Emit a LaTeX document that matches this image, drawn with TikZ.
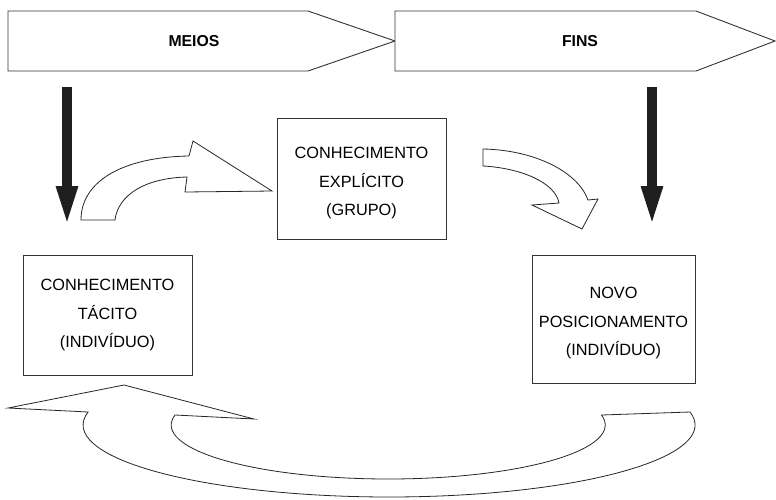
\documentclass[tikz,border=0pt]{standalone}
\usepackage{fontspec}
\setmainfont{Liberation Sans}
\usetikzlibrary{arrows.meta}

\begin{document}
\begin{tikzpicture}[x=1pt, y=-1pt,
  box/.style={draw=black!80, line width=0.9pt, inner sep=0pt},
  boxtext/.style={align=center, inner sep=0pt, font=\fontsize{16.3}{28.5}\selectfont},
  banner/.style={draw=black!80, line width=0.9pt, fill=white},
  title/.style={font=\fontsize{15.8}{19}\selectfont\bfseries},
  curvearrow/.style={draw=black!85, line width=0.8pt, fill=white, line join=miter},
  downarrow/.style={draw=black!88, line width=10pt, -{Triangle[width=19pt,length=42pt]}}
]
\useasboundingbox (0,0) rectangle (776,499);

\draw[banner] (8,11) -- (308,11) -- (395,41) -- (308,71) -- (8,71) -- cycle;
\draw[banner] (395,11) -- (696,11) -- (775,41) -- (696,71) -- (395,71) -- cycle;
\node[title] (meios) at (194,41) {MEIOS};
\node[title] (fins) at (580,41) {FINS};

\node[box, minimum width=169pt, minimum height=120pt] (tacito) at (107.5,315) {};
\node[box, minimum width=169pt, minimum height=121pt] (explicito) at (361.5,178.5) {};
\node[box, minimum width=163pt, minimum height=128pt] (novo) at (613.5,319) {};
\node[boxtext] (tacitotxt) at (tacito.center) {CONHECIMENTO\\TÁCITO\\(INDIVÍDUO)};
\node[boxtext, yshift=-4.5pt] (explicitotxt) at (explicito.center) {CONHECIMENTO\\EXPLÍCITO\\(GRUPO)};
\node[boxtext, yshift=-4pt] (novotxt) at (novo.center) {NOVO\\POSICIONAMENTO\\(INDIVÍDUO)};

\coordinate (meiostop) at (67,87);
\coordinate (meiosend) at (67,228);
\coordinate (finstop) at (652,87);
\coordinate (finsend) at (652,228);
\draw[downarrow] (meiostop) -- (meiosend);
\draw[downarrow] (finstop) -- (finsend);

\draw[curvearrow] (81,220) .. controls (81,180) and (125,157) .. (189,156) -- (193,141)
  -- (272,191) -- (185,192) -- (187,177) .. controls (145,178) and (118,195) .. (115,220) -- cycle;

\draw[curvearrow] (483,149) .. controls (535,150) and (578,172) .. (588,200) -- (598,199)
  -- (582,229) -- (532,205) -- (559,203) .. controls (555,182) and (520,168) .. (483,166) -- cycle;

\draw[curvearrow] (690,412) arc[start angle=-10.4, end angle=190.4, x radius=306, y radius=72]
  -- (8,408) -- (124,385) -- (254,419) -- (175,415)
  arc[start angle=190.67, end angle=-10.67, x radius=217, y radius=54] -- cycle;
\end{tikzpicture}
\end{document}
